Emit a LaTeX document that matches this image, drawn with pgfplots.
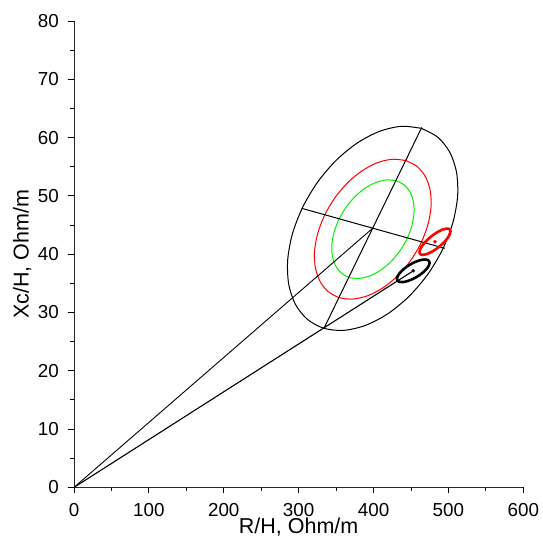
\documentclass[border=0pt]{standalone}
\usepackage{fontspec}
\setmainfont{Liberation Sans}
\usepackage{pgfplots}
\pgfplotsset{compat=1.18}
\begin{document}
\begin{tikzpicture}
\begin{axis}[name=ax, at={(0,0)}, anchor=south west,
 scale only axis, width=449.3pt, height=466.4pt,
 xmin=0, xmax=600, ymin=0, ymax=80,
 axis lines=left, axis line style={-, line width=0.9pt, black!85},
 xtick={0,100,...,600}, ytick={0,10,...,80},
 minor x tick num=1, minor y tick num=1,
 tick align=outside, major tick length=5.5pt, minor tick length=3.5pt,
 tick style={black, line width=0.9pt},
 /pgf/number format/assume math mode=true,
 ticklabel style={font=\fontsize{18.8}{20}\selectfont},
 xticklabel style={inner sep=0pt, anchor=north, yshift=-10.3pt},
 yticklabel style={inner sep=0pt, anchor=east, xshift=-9.5pt},
 xlabel={R/H, Ohm/m}, ylabel={Xc/H, Ohm/m},
 label style={font=\fontsize{21.5}{24}\selectfont},
 xlabel style={at={(axis description cs:0.5,-0.0995)}, anchor=base, inner sep=0pt},
 ylabel style={at={(axis description cs:-0.1008,0.5)}, anchor=base, inner sep=0pt},
]
% large black ellipse
\addplot[black, line width=1.0pt, smooth] coordinates {
(463.8,61.59) (485.78,60.07) (501.84,57.49) (510.87,54.02) (512.27,49.90) (505.93,45.40)
(492.3,40.84) (472.29,36.52) (447.27,32.75) (418.95,29.77) (389.26,27.79) (360.22,26.94)
(333.8,27.29) (311.82,28.81) (295.76,31.39) (286.73,34.86) (285.33,38.98) (291.67,43.48)
(305.3,48.04) (325.31,52.36) (350.33,56.13) (378.65,59.11) (408.34,61.09) (437.38,61.94)
(463.8,61.59)};
% red ellipse
\addplot[red, line width=1.0pt, smooth] coordinates {
(443.53,56.05) (458.58,55.01) (469.58,53.24) (475.77,50.86) (476.73,48.04) (472.38,44.96)
(463.05,41.83) (449.34,38.88) (432.20,36.29) (412.80,34.25) (392.47,32.89) (372.57,32.31)
(354.47,32.55) (339.42,33.59) (328.42,35.36) (322.23,37.74) (321.27,40.56) (325.62,43.64)
(334.95,46.77) (348.66,49.72) (365.80,52.31) (385.20,54.35) (405.53,55.71) (425.43,56.29)
(443.53,56.05)};
% green ellipse
\addplot[color={rgb,255:red,0;green,240;blue,0}, line width=1.0pt, smooth] coordinates {
(430.6,52.58) (441.21,51.85) (448.97,50.60) (453.33,48.93) (454.01,46.94) (450.94,44.76)
(444.36,42.56) (434.70,40.48) (422.61,38.65) (408.93,37.21) (394.59,36.26) (380.57,35.85)
(367.8,36.02) (357.19,36.75) (349.43,38.00) (345.07,39.67) (344.39,41.66) (347.46,43.84)
(354.04,46.04) (363.70,48.12) (375.79,49.95) (389.47,51.39) (403.81,52.34) (417.83,52.75)
(430.6,52.58)};
% axes of the large ellipse
\addplot[black, line width=1.0pt] coordinates {(464.4,61.75) (333.8,27.29)};
\addplot[black, line width=1.0pt] coordinates {(304.1,47.87) (495.0,41.01)};
% lines from origin
\addplot[black, line width=0.9pt] coordinates {(0,0) (398.8,44.44)};
\addplot[black, line width=1.1pt] coordinates {(0,0) (453.1,37.15)};
% small red ellipse
\addplot[red, line width=2.6pt, smooth] coordinates {
(502.11,44.23) (502.85,43.93) (502.17,43.52) (500.12,43.01) (496.85,42.44) (492.57,41.85)
(487.58,41.28) (482.21,40.76) (476.84,40.35) (471.82,40.05) (467.51,39.90) (464.19,39.90)
(462.09,40.05) (461.36,40.35) (462.03,40.76) (464.08,41.27) (467.35,41.84) (471.63,42.43)
(476.63,43.00) (481.99,43.52) (487.36,43.93) (492.38,44.23) (496.69,44.38) (500.01,44.38)
(502.11,44.23)};
% small black ellipse
\addplot[black, line width=2.6pt, smooth] coordinates {
(474.39,38.79) (474.91,38.47) (473.94,38.06) (471.56,37.58) (467.91,37.08) (463.26,36.58)
(457.91,36.12) (452.24,35.73) (446.62,35.44) (441.45,35.26) (437.07,35.21) (433.78,35.30)
(431.81,35.51) (431.29,35.83) (432.26,36.24) (434.64,36.72) (438.29,37.22) (442.94,37.72)
(448.29,38.18) (453.96,38.57) (459.58,38.86) (464.75,39.04) (469.13,39.09) (472.42,39.00)
(474.39,38.79)};
% centre dots
\addplot[only marks, mark=*, mark size=1.6pt, red] coordinates {(482.1,42.14)};
\addplot[only marks, mark=*, mark size=1.6pt, black] coordinates {(453.1,37.15)};
\end{axis}
\pgfresetboundingbox
\path[use as bounding box] (ax.south west) ++(-74pt,-49.6pt) rectangle ++(543pt,537pt);
\end{tikzpicture}
\end{document}
